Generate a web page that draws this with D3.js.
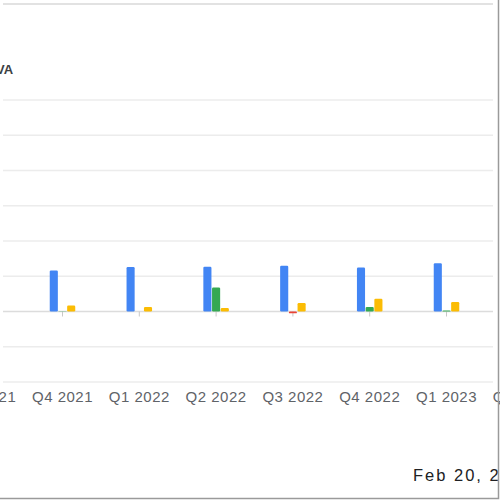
<!DOCTYPE html>
<html>
<head>
<meta charset="utf-8">
<script src="https://cdn.jsdelivr.net/npm/d3@7"></script>
<style>
  body { margin: 0; background: #fff; }
  svg { display: block; font-family: "Liberation Sans", Arial, sans-serif; }
</style>
</head>
<body>
<div id="chart"></div>
<script>
// quarters shown (first and last are cut off by the frame)
var quarters = ["Q3 2021", "Q4 2021", "Q1 2022", "Q2 2022", "Q3 2022", "Q4 2022", "Q1 2023", "Q2 2023"];
var seriesKeys = ["blue", "green", "yellow"];
var blueValues = [11.2, 11.6, 12.6, 12.7, 13.0, 12.5, 13.7, 13.9];
var greenValues = [0.3, 0.1, 0.0, 6.8, -0.5, 1.3, 0.3, 0.5];
var yellowValues = [1.5, 1.7, 1.3, 1.0, 2.4, 3.6, 2.7, 2.5];
var yTicks = [-20, -10, 0, 10, 20, 30, 40, 50, 60];

const width = 500, height = 500;
const colors = { blue: "#4285f4", green: "#34a853", yellow: "#fbbc04", neg: "#ea4335" };

const svg = d3.select("#chart")
    .append("svg")
    .attr("width", width)
    .attr("height", height);

const xScale = d3.scaleBand()
    .domain(quarters)
    .range([-52.7, 561.7])
    .paddingInner(0.66)
    .paddingOuter(0.33);

const xSub = d3.scaleBand()
    .domain(seriesKeys)
    .range([0, xScale.bandwidth()]);

const yScale = d3.scaleLinear()
    .domain([-20, 60])
    .range([382, 100]);

// top divider
svg.append("line")
    .attr("x1", 3).attr("x2", 493)
    .attr("y1", 4).attr("y2", 4)
    .attr("stroke", "#e2e2e2")
    .attr("stroke-width", 2);

// grid
svg.append("g")
    .selectAll("line")
    .data(yTicks)
    .enter()
    .append("line")
    .attr("x1", 3).attr("x2", 493)
    .attr("y1", d => yScale(d)).attr("y2", d => yScale(d))
    .attr("stroke", d => d === 0 ? "#dcdcdc" : "#ececec")
    .attr("stroke-width", 1.5);

// x axis: small ticks under baseline, labels further down
const xAxis = svg.append("g")
    .attr("transform", `translate(0, ${yScale(0)})`)
    .call(d3.axisBottom(xScale).tickSize(5).tickPadding(75));
xAxis.select(".domain").remove();
xAxis.selectAll(".tick line").attr("stroke", "#c8c8c8");
xAxis.selectAll(".tick text")
    .attr("fill", "#5f6368")
    .style("font-size", "15px")
    .style("letter-spacing", "0.5px");

const rows = quarters.map((q, i) => ({ q: q, blue: blueValues[i], green: greenValues[i], yellow: yellowValues[i] }));

const groups = svg.append("g")
    .selectAll("g")
    .data(rows)
    .enter()
    .append("g")
    .attr("transform", d => `translate(${xScale(d.q)}, 0)`);

groups.selectAll("rect")
    .data(d => seriesKeys.map(k => ({ key: k, value: d[k] })))
    .enter()
    .append("rect")
    .attr("x", d => xSub(d.key) + 0.3)
    .attr("width", xSub.bandwidth() - 0.6)
    .attr("y", d => yScale(Math.max(0, d.value)))
    .attr("height", d => Math.abs(yScale(d.value) - yScale(0)))
    .attr("rx", 1.2)
    .attr("fill", d => d.value < 0 ? colors.neg : colors[d.key]);

// clipped legend / label text at top left
svg.append("text")
    .text("VA")
    .attr("x", -4)
    .attr("y", 74)
    .attr("fill", "#3c4043")
    .style("font-size", "13px")
    .style("font-weight", "bold");

svg.append("text")
    .text("Feb 20, 2023")
    .attr("x", 413)
    .attr("y", 481)
    .attr("fill", "#202124")
    .style("font-size", "16.5px")
    .style("letter-spacing", "2px");

// frame edges
svg.append("path")
    .attr("d", "M498.5,0V498.5H0")
    .attr("fill", "none")
    .attr("stroke", "#9a9a9a")
    .attr("stroke-width", 1.5);
</script>
</body>
</html>
